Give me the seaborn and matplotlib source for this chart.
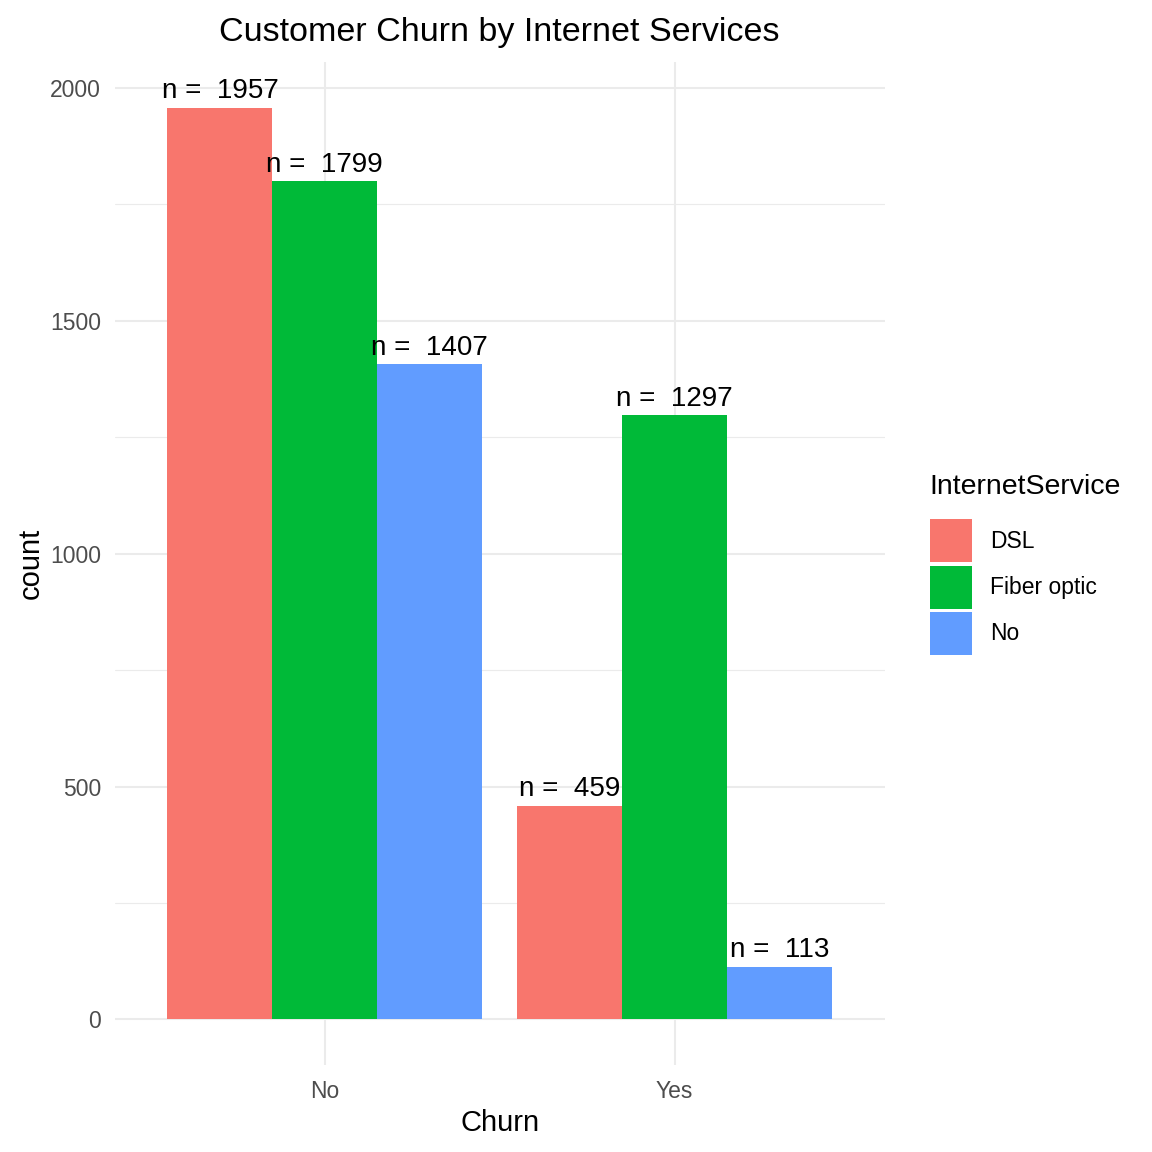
import pandas as pd
import numpy as np
import matplotlib.pyplot as plt
import matplotlib.patches as mpatches
import seaborn as sns

# Data
churn = ['No', 'No', 'No', 'Yes', 'Yes', 'Yes']
service = ['DSL', 'Fiber optic', 'No', 'DSL', 'Fiber optic', 'No']
counts = [1957, 1799, 1407, 459, 1297, 113]
service_order = ['DSL', 'Fiber optic', 'No']
palette = ['#F8766D', '#00BA38', '#619CFF']

df = pd.DataFrame({'Churn': churn, 'InternetService': service, 'count': counts})

sns.set_style('white')
plt.rcParams['font.family'] = ['Liberation Sans', 'DejaVu Sans']
plt.rcParams['text.color'] = 'black'
plt.rcParams['axes.labelcolor'] = 'black'

fig = plt.figure(figsize=(11.52, 11.52), dpi=100)
ax = fig.add_axes([0.0998, 0.0755, 0.668, 0.8705])

sns.barplot(data=df, x='Churn', y='count', hue='InternetService',
            hue_order=service_order, palette=palette, width=0.9,
            saturation=1, linewidth=0, edgecolor='none', ax=ax,
            legend=False, zorder=3)

# value labels above bars
for cont, svc in zip(ax.containers, service_order):
    vals = df[df['InternetService'] == svc]['count'].tolist()
    for bar, v in zip(cont, vals):
        ax.annotate(f"n =  {v}", (bar.get_x() + bar.get_width() / 2, bar.get_height()),
                    xytext=(0, 2.5), textcoords='offset points',
                    ha='center', va='bottom', fontsize=20, color='black', zorder=5)

ax.set_xlim(-0.6, 1.6)
ax.set_ylim(-97.85, 2054.85)
ax.set_yticks([0, 500, 1000, 1500, 2000])
ax.set_yticks([250, 750, 1250, 1750], minor=True)
ax.grid(True, which='major', color='#EBEBEB', linewidth=1.5, zorder=0)
ax.grid(True, which='minor', axis='y', color='#EBEBEB', linewidth=0.8, zorder=0)
ax.set_axisbelow(True)
for s in ax.spines.values():
    s.set_visible(False)
ax.tick_params(axis='both', which='both', length=0, labelsize=16.5, labelcolor='#4D4D4D')
ax.tick_params(axis='x', pad=11)
ax.tick_params(axis='y', pad=10)

ax.set_title('Customer Churn by Internet Services', fontsize=24.5, pad=15)
ax.set_xlabel('Churn', fontsize=21, labelpad=4)
ax.set_ylabel('count', fontsize=21, labelpad=4)

handles = [mpatches.Patch(facecolor=c, edgecolor='none') for c in palette]
leg = fig.legend(handles, service_order, title='InternetService', loc='center left',
                 bbox_to_anchor=(0.797, 0.51), frameon=False, fontsize=16.5,
                 title_fontsize=20.5, handlelength=1.85, handleheight=2.5,
                 labelspacing=0.15, handletextpad=0.8, borderpad=0, alignment='left')
leg._legend_box.sep = 14

plt.savefig('out.png', dpi=100)
plt.close()
